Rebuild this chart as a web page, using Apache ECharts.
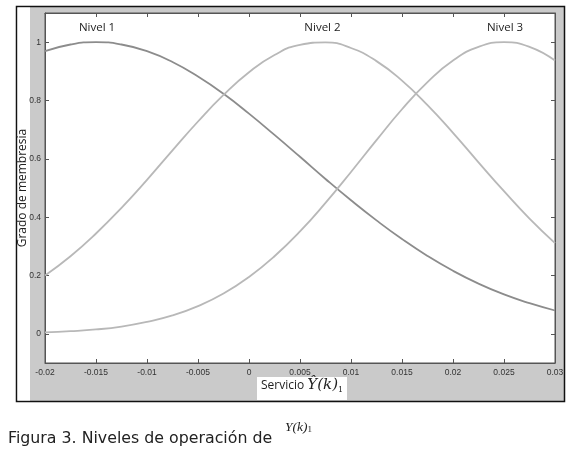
<!DOCTYPE html>
<html>
<head>
<meta charset="utf-8">
<script src="https://cdn.jsdelivr.net/npm/echarts@6/dist/echarts.min.js"></script>
<style>
  html, body { margin: 0; padding: 0; background: #fff; }
  #chart { width: 575px; height: 450px; }
</style>
</head>
<body>
<div id="chart"></div>
<script>
// valores (paso 0.0025)
var xVals = [-0.02, -0.0175, -0.015, -0.0125, -0.01, -0.0075, -0.005, -0.0025, 0, 0.0025, 0.005,
             0.0075, 0.01, 0.0125, 0.015, 0.0175, 0.02, 0.0225, 0.025, 0.0275, 0.03];
var nivel1 = [0.969, 0.992, 1.0, 0.992, 0.969, 0.932, 0.882, 0.823, 0.755, 0.682, 0.607,
              0.531, 0.458, 0.389, 0.325, 0.267, 0.216, 0.172, 0.135, 0.105, 0.080];
var nivel2 = [0.200, 0.266, 0.344, 0.432, 0.528, 0.629, 0.728, 0.819, 0.897, 0.956, 0.991,
              0.999, 0.980, 0.935, 0.868, 0.784, 0.689, 0.588, 0.489, 0.395, 0.311];
var nivel3 = [0.005, 0.009, 0.015, 0.025, 0.041, 0.063, 0.095, 0.138, 0.195, 0.266, 0.351,
              0.449, 0.555, 0.664, 0.770, 0.863, 0.937, 0.984, 1.0, 0.984, 0.937];
var names = ['Nivel 1', 'Nivel 2', 'Nivel 3'];
var labelX = [-0.0149, 0.0072, 0.0251];
var yTicks = [0, 0.2, 0.4, 0.6, 0.8, 1];

var chart = echarts.init(document.getElementById('chart'));

function zip(ys) {
  return xVals.map(function (x, i) { return [x, ys[i]]; });
}
function fmt(v) { return String(parseFloat(v.toFixed(4))); }

var colors = ['#8c8c8c', '#b8b8b8', '#b8b8b8'];
var seriesData = [nivel1, nivel2, nivel3];

var series = seriesData.map(function (d, i) {
  return {
    name: names[i],
    type: 'line',
    data: zip(d),
    smooth: true,
    symbol: 'none',
    lineStyle: { color: colors[i], width: 1.8 },
    markPoint: {
      symbol: 'circle',
      symbolSize: 0,
      data: [{ coord: [labelX[i], 1.05] }],
      label: {
        show: true, position: 'inside', formatter: names[i],
        color: '#222', fontSize: 11.5, fontFamily: 'Open Sans'
      }
    }
  };
});

var axisCommonX = {
  type: 'value', min: -0.02, max: 0.03, interval: 0.005,
  axisLine: { onZero: false, lineStyle: { color: '#555' } },
  axisTick: { inside: true, length: 4, lineStyle: { color: '#555' } },
  splitLine: { show: false }
};
var axisCommonY = {
  type: 'value', min: -0.1, max: 1.1,
  axisLine: { show: true, onZero: false, lineStyle: { color: '#555' } },
  axisTick: { inside: true, length: 4, customValues: yTicks, lineStyle: { color: '#555' } },
  splitLine: { show: false }
};

var option = {
  backgroundColor: '#fff',
  animation: false,
  grid: {
    left: 45, right: 20, top: 13, bottom: 87,
    outerBoundsMode: 'none',
    show: true, backgroundColor: '#fff', borderColor: '#555', borderWidth: 1
  },
  xAxis: [
    Object.assign({}, axisCommonX, {
      position: 'bottom',
      axisLabel: { color: '#333', fontSize: 8.5, margin: 5, fontFamily: 'Liberation Sans', formatter: fmt }
    }),
    Object.assign({}, axisCommonX, { position: 'top', axisLabel: { show: false } })
  ],
  yAxis: [
    Object.assign({}, axisCommonY, {
      position: 'left',
      name: 'Grado de membresía',
      nameLocation: 'middle',
      nameGap: 16,
      nameMoveOverlap: false,
      nameTextStyle: { color: '#222', fontSize: 12, fontFamily: 'Open Sans' },
      axisLabel: { color: '#333', fontSize: 8.5, margin: 4, customValues: yTicks,
                   fontFamily: 'Liberation Sans', formatter: fmt }
    }),
    Object.assign({}, axisCommonY, { position: 'right', axisLabel: { show: false } })
  ],
  series: series,
  graphic: [
    {
      type: 'rect', z: -100,
      shape: { x: 16.5, y: 6.5, width: 548, height: 395 },
      style: { fill: '#cacaca', stroke: '#111', lineWidth: 1.5 }
    },
    {
      type: 'rect', z: -99,
      shape: { x: 17.5, y: 7.5, width: 12.5, height: 393 },
      style: { fill: '#fff' }
    },
    {
      type: 'rect', z: -99,
      shape: { x: 257, y: 377, width: 90, height: 23 },
      style: { fill: '#fff' }
    },
    {
      type: 'text', left: 261, top: 378,
      style: {
        text: '{a|Servicio }{b|Ŷ(k)}{c|1}',
        rich: {
          a: { fontSize: 12, fontFamily: 'Open Sans', fill: '#222' },
          b: { fontSize: 15, fontFamily: 'DejaVu Serif', fontStyle: 'italic', fill: '#222' },
          c: { fontSize: 8, fontFamily: 'DejaVu Serif', fill: '#222', verticalAlign: 'bottom', padding: [8, 0, 0, 0] }
        }
      }
    },
    {
      type: 'text', left: 8, top: 431,
      style: {
        text: 'Figura 3. Niveles de operación de',
        fontSize: 15.8, fontFamily: 'DejaVu Sans', fill: '#222'
      }
    },
    {
      type: 'text', left: 285, top: 420,
      style: {
        text: '{b|Y(k)}{c|1}',
        rich: {
          b: { fontSize: 13.5, fontFamily: 'Liberation Serif', fontStyle: 'italic', fill: '#222' },
          c: { fontSize: 9, fontFamily: 'Liberation Serif', fill: '#222', padding: [6, 0, 0, 0] }
        }
      }
    }
  ]
};

chart.setOption(option);
</script>
</body>
</html>
